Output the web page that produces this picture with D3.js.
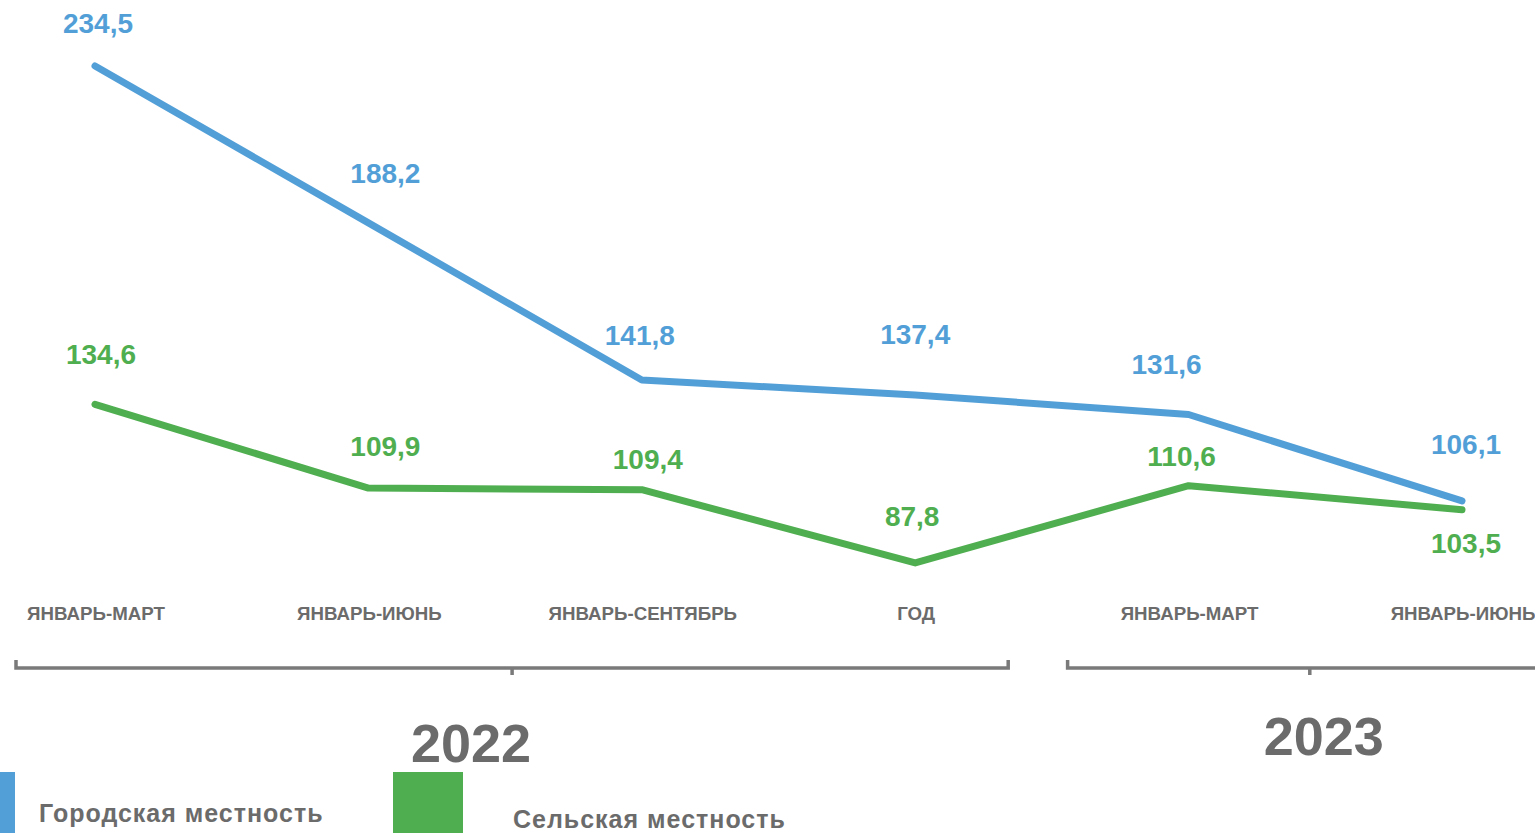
<!DOCTYPE html>
<html>
<head>
<meta charset="utf-8">
<script src="https://cdn.jsdelivr.net/npm/d3@7"></script>
<style>
  body { margin: 0; background: #fff; overflow: hidden; }
  text { font-family: "Liberation Sans", Arial, sans-serif; font-weight: bold; }
</style>
</head>
<body>
<div id="chart"></div>
<script>
// periods on the x axis
const periods = ["ЯНВАРЬ-МАРТ", "ЯНВАРЬ-ИЮНЬ", "ЯНВАРЬ-СЕНТЯБРЬ", "ГОД", "ЯНВАРЬ-МАРТ", "ЯНВАРЬ-ИЮНЬ"];
// values
const urbanValues = [234.5, 188.2, 141.8, 137.4, 131.6, 106.1];
const ruralValues = [134.6, 109.9, 109.4, 87.8, 110.6, 103.5];
const years = ["2022", "2023"];
const yearStart = [0, 4];
const yearEnd = [3, 5];
const seriesNames = ["Городская местность", "Сельская местность"];

// label offsets from the point, hand tuned to look like the original
const urbanLabelDx = [3, 17, -2, 0, -22, 4];
const urbanLabelDy = [-43, -50, -45, -61, -50, -57];
const ruralLabelDx = [6, 17, 6, -3, -7, 4];
const ruralLabelDy = [-50, -42, -31, -47, -29, 33];

const W = 1535, H = 833;
const blue = "#529fd8", green = "#4fae4f", grey = "#6b6b6b";

const svg = d3.select("#chart").append("svg")
    .attr("width", W).attr("height", H)
    .attr("viewBox", `0 0 ${W} ${H}`);

const x = d3.scaleLinear().domain([0, periods.length - 1]).range([95, 1462]);
const y = d3.scaleLinear().domain([80, 240]).range([589.3, 47.4]);

const line = d3.line().x((d, i) => x(i)).y(d => y(d));

// series
const series = [
    {vals: urbanValues, color: blue, dx: urbanLabelDx, dy: urbanLabelDy},
    {vals: ruralValues, color: green, dx: ruralLabelDx, dy: ruralLabelDy}
];

series.forEach(function (s) {
    svg.append("path")
        .datum(s.vals)
        .attr("d", line)
        .attr("fill", "none")
        .attr("stroke", s.color)
        .attr("stroke-width", 7)
        .attr("stroke-linecap", "round")
        .attr("stroke-linejoin", "round");

    svg.selectAll(null)
        .data(s.vals)
        .enter()
        .append("text")
        .attr("x", (d, i) => x(i) + s.dx[i])
        .attr("y", (d, i) => y(d) + s.dy[i])
        .attr("dy", "0.35em")
        .attr("text-anchor", "middle")
        .attr("font-size", "28px")
        .attr("fill", s.color)
        .text(d => d3.format(".1f")(d).replace(".", ","));
});

// category labels
svg.selectAll(".cat")
    .data(periods)
    .enter()
    .append("text")
    .attr("class", "cat")
    .attr("x", (d, i) => x(i) + 1)
    .attr("y", 620)
    .attr("text-anchor", "middle")
    .attr("font-size", "18.7px")
    .attr("fill", grey)
    .text(d => d);

// year brackets
const bracketPad = [[-79, 93], [-121, 90]];
const yearLabelShift = [-41, 14];
const yearLabelY = [762, 755];
years.forEach(function (yr, k) {
    const x0 = x(yearStart[k]) + bracketPad[k][0];
    const x1 = x(yearEnd[k]) + bracketPad[k][1];
    const mid = (x0 + x1) / 2;
    svg.append("path")
        .attr("d", `M${x0},660 V668 H${x1} V660 M${mid},668 V675`)
        .attr("fill", "none")
        .attr("stroke", "#7a7a7a")
        .attr("stroke-width", 3.5);
    svg.append("text")
        .attr("x", mid + yearLabelShift[k])
        .attr("y", yearLabelY[k])
        .attr("text-anchor", "middle")
        .attr("font-size", "54px")
        .attr("fill", grey)
        .text(yr);
});

// legend (cut at bottom like original)
const legendRects = [[-55, 15], [393, 463]];
const legendText = [[39, 822], [513, 828]];
seriesNames.forEach(function (name, k) {
    svg.append("rect")
        .attr("x", legendRects[k][0])
        .attr("y", 772)
        .attr("width", legendRects[k][1] - legendRects[k][0])
        .attr("height", 70)
        .attr("fill", k == 0 ? blue : green);
    svg.append("text")
        .attr("x", legendText[k][0])
        .attr("y", legendText[k][1])
        .attr("font-size", "25px")
        .attr("letter-spacing", "1px")
        .attr("fill", grey)
        .text(name);
});
</script>
</body>
</html>
